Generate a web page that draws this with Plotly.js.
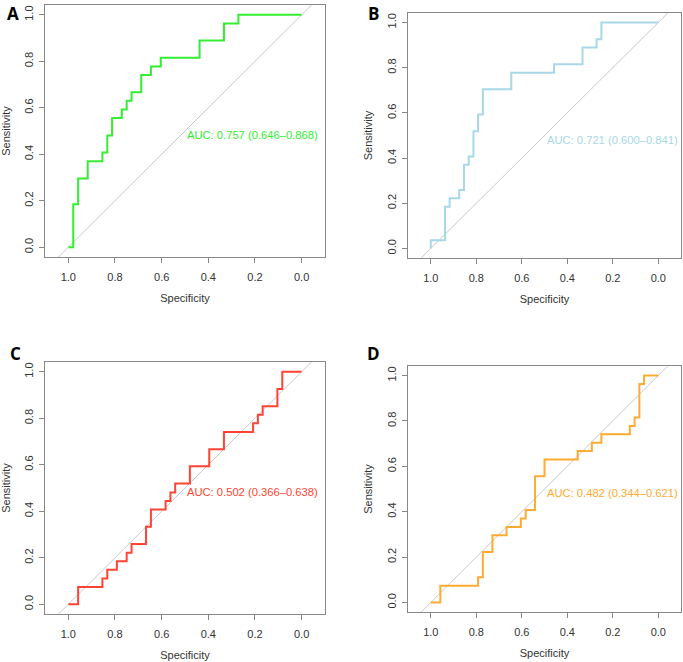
<!DOCTYPE html>
<html>
<head>
<meta charset="utf-8">
<script src="https://cdn.plot.ly/plotly-3.0.1.min.js"></script>
<style>
  html, body { margin: 0; padding: 0; background: #fff; }
  #chart { width: 683px; height: 662px; }
</style>
</head>
<body>
<div id="chart"></div>
<script>
// ROC steps: specificity where sensitivity rises, and sensitivity after the rise
const specA = [1.0, 0.979, 0.958, 0.917, 0.854, 0.833, 0.8125, 0.771, 0.75, 0.729, 0.6875, 0.646, 0.604, 0.4375, 0.333, 0.271, 0.0];
const sensA = [0.0, 0.185, 0.296, 0.370, 0.407, 0.481, 0.556, 0.593, 0.630, 0.667, 0.741, 0.778, 0.815, 0.889, 0.963, 1.0, 1.0];

const specB = [1.0, 1.0, 0.9375, 0.917, 0.875, 0.854, 0.833, 0.8125, 0.792, 0.771, 0.646, 0.458, 0.333, 0.271, 0.25, 0.0];
const sensB = [0.0, 0.037, 0.185, 0.222, 0.259, 0.370, 0.407, 0.519, 0.593, 0.704, 0.778, 0.815, 0.889, 0.926, 1.0, 1.0];

const specC = [1.0, 0.958, 0.854, 0.833, 0.792, 0.75, 0.729, 0.667, 0.646, 0.583, 0.5625, 0.542, 0.479, 0.396, 0.333, 0.208, 0.1875, 0.167, 0.104, 0.083, 0.0];
const sensC = [0.0, 0.074, 0.111, 0.148, 0.185, 0.222, 0.259, 0.333, 0.407, 0.444, 0.481, 0.519, 0.593, 0.667, 0.741, 0.778, 0.815, 0.852, 0.926, 1.0, 1.0];

const specD = [1.0, 0.958, 0.792, 0.771, 0.729, 0.667, 0.604, 0.583, 0.542, 0.5, 0.354, 0.292, 0.25, 0.125, 0.104, 0.083, 0.0625, 0.0];
const sensD = [0.0, 0.074, 0.111, 0.222, 0.296, 0.333, 0.370, 0.407, 0.556, 0.630, 0.667, 0.704, 0.741, 0.778, 0.815, 0.963, 1.0, 1.0];

const aucLabels = ['AUC: 0.757 (0.646\u20130.868)', 'AUC: 0.721 (0.600\u20130.841)',
                   'AUC: 0.502 (0.366\u20130.638)', 'AUC: 0.482 (0.344\u20130.621)'];
const colors = ['#33ee33', '#a8d8e8', '#ff4433', '#ffaa33'];
const panelLetters = ['A', 'B', 'C', 'D'];

const diagX = [1.1, -0.1];
const diagY = [-0.1, 1.1];

const panels = [
  { spec: specA, sens: sensA, dx: [0.0659, 0.4758], dy: [0.6118, 0.9924], lx: 13, ly: 0 },
  { spec: specB, sens: sensB, dx: [0.5974, 0.9971], dy: [0.6103, 0.9804], lx: 373, ly: 0 },
  { spec: specC, sens: sensC, dx: [0.0659, 0.4758], dy: [0.0725, 0.4532], lx: 15, ly: 340 },
  { spec: specD, sens: sensD, dx: [0.5974, 0.9971], dy: [0.0755, 0.4471], lx: 373, ly: 340 }
];

const data = [];
const layout = {
  width: 683, height: 662,
  margin: { l: 0, r: 0, t: 0, b: 0 },
  paper_bgcolor: '#fff', plot_bgcolor: '#fff',
  showlegend: false,
  font: { family: 'Liberation Sans, Arial, sans-serif', size: 11, color: '#333' },
  annotations: []
};

panels.forEach((p, i) => {
  const n = i === 0 ? '' : String(i + 1);
  const xa = 'x' + n, ya = 'y' + n;

  data.push({
    x: diagX, y: diagY, xaxis: xa, yaxis: ya,
    type: 'scatter', mode: 'lines',
    line: { color: '#c8c8c8', width: 1 }, hoverinfo: 'skip'
  });
  data.push({
    x: p.spec, y: p.sens, xaxis: xa, yaxis: ya,
    type: 'scatter', mode: 'lines',
    line: { color: colors[i], width: 2, shape: 'hv' }
  });

  const common = {
    showgrid: false, zeroline: false,
    showline: true, mirror: true, linecolor: '#888', linewidth: 1,
    ticks: 'outside', ticklen: 5, tickcolor: '#888',
    tickfont: { size: 11, color: '#333' },
    tickformat: '.1f', dtick: 0.2, tick0: 0
  };
  layout['xaxis' + n] = Object.assign({}, common, {
    domain: p.dx, anchor: ya,
    range: [1.1, -0.1],
    ticklabelstandoff: 5,
    title: { text: 'Specificity', font: { size: 11, color: '#333' }, standoff: 12 }
  });
  layout['yaxis' + n] = Object.assign({}, common, {
    domain: p.dy, anchor: xa,
    range: [-0.042, 1.042],
    tickangle: -90,
    ticklabelstandoff: 2,
    title: { text: 'Sensitivity', font: { size: 11, color: '#333' }, standoff: 10 }
  });

  layout.annotations.push({
    xref: xa, yref: ya, x: 0.5, y: 0.482,
    xanchor: 'left', yanchor: 'middle', showarrow: false,
    text: aucLabels[i],
    font: { size: 11.2, color: colors[i], family: 'Liberation Sans, Arial, sans-serif' }
  });
  layout.annotations.push({
    xref: 'paper', yref: 'paper', x: p.lx / 683, y: 1 - p.ly / 662,
    xanchor: 'center', yanchor: 'top', showarrow: false,
    text: '<b>' + panelLetters[i] + '</b>',
    font: { size: 17, color: '#000', family: 'Open Sans, Liberation Sans, sans-serif' }
  });
});

Plotly.newPlot('chart', data, layout, { staticPlot: true });
</script>
</body>
</html>
